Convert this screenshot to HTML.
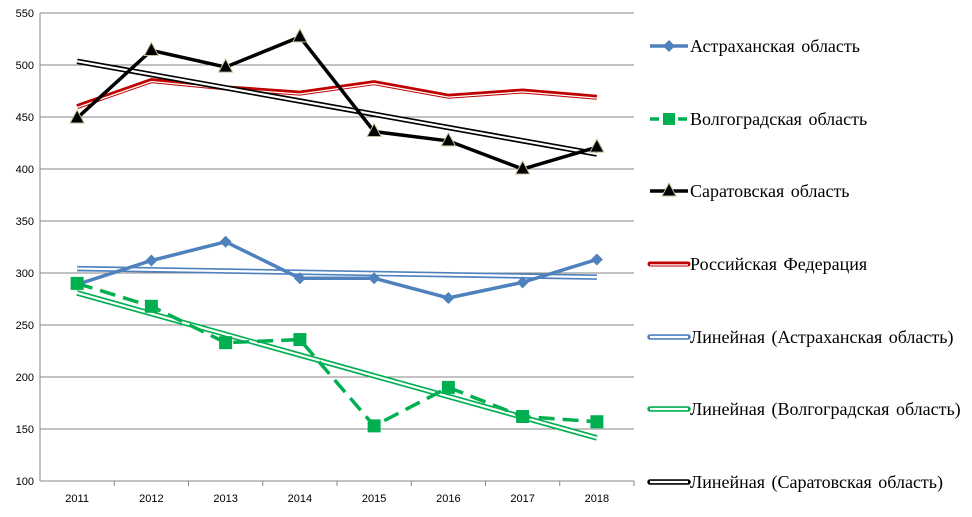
<!DOCTYPE html>
<html><head><meta charset="utf-8"><style>
body{margin:0;background:#fff;}
svg{display:block;}
.tick{font-family:"Liberation Sans",sans-serif;font-size:11px;fill:#000;}
.leg{font-family:"Liberation Serif","Noto Serif CJK SC",serif;font-size:18px;word-spacing:2px;fill:#000;}
</style></head><body>
<svg id="chart" width="972" height="517"></svg>
<script>
const years=[2011,2012,2013,2014,2015,2016,2017,2018];
const astrakhan=[289,312,330,295,295,276,291,313];
const volgograd=[290,268,233,236,153,190,162,157];
const saratov=[449,514,498,527,436,427,400,421];
const russia=[460,485,478,473,483,470,475,469];
const yTicks=[100,150,200,250,300,350,400,450,500,550];
const legendLabels=["Астраханская  область","Волгоградская  область","Саратовская  область","Российская  Федерация","Линейная  (Астраханская  область)","Линейная  (Волгоградская  область)","Линейная  (Саратовская  область)"];

const NS="http://www.w3.org/2000/svg";
const svg=document.getElementById('chart');
const X0=40,X1=634,Y0=481,Y1=13;
const step=(X1-X0)/years.length;
const xs=i=>X0+step*(i+0.5);
const ys=v=>Y0-(v-100)/(550-100)*(Y0-Y1);
function mk(t,a,p){const e=document.createElementNS(NS,t);for(const k in a)e.setAttribute(k,a[k]);(p||svg).appendChild(e);return e;}

yTicks.forEach(v=>{
  const g=mk('line',{x1:X0,x2:X1,y1:ys(v),y2:ys(v),stroke:'#868686','stroke-width':1});
  
  
  const t=mk('text',{x:X0-6,y:ys(v)+4,'text-anchor':'end',class:'tick'});t.textContent=v;
  
  
});
const ax=mk('line',{x1:X0,x2:X0,y1:Y1,y2:Y0,stroke:'#868686'});


years.forEach((y,i)=>{
  const tk=mk('line',{x1:X0+step*(i+1),x2:X0+step*(i+1),y1:Y0,y2:Y0+5,stroke:'#868686'});
  
  
  const t=mk('text',{x:xs(i),y:Y0+21,'text-anchor':'middle',class:'tick'});t.textContent=y;
  
  
});

function trend(vals){const n=vals.length;let sx=0,sy=0,sxy=0,sxx=0;vals.forEach((v,i)=>{sx+=i;sy+=v;sxy+=i*v;sxx+=i*i;});const b=(n*sxy-sx*sy)/(n*sxx-sx*sx);const a=(sy-b*sx)/n;return [a,a+b*(n-1)];}
function dbl(x1,y1,x2,y2,c,name){
  const g=mk('g',{});
  
  
  mk('line',{x1,y1,x2,y2,stroke:c,'stroke-width':5.5},g);
  mk('line',{x1,y1,x2,y2,stroke:'#fff','stroke-width':2.2},g);
}
function pts(vals){return vals.map((v,i)=>xs(i)+','+ys(v)).join(' ');}

// Russia double line
const rg=mk('g',{});


mk('polyline',{points:pts(russia),fill:'none',stroke:'#c00000','stroke-width':5},rg);
mk('polyline',{points:pts(russia),fill:'none',stroke:'#fff','stroke-width':1.3,transform:'translate(0,0.9)'},rg);

// trendlines
[[astrakhan,'#4f81bd','trend-astrakhan'],[volgograd,'#00b050','trend-volgograd'],[saratov,'#000','trend-saratov']].forEach(([d,c,n])=>{
  const [a,b]=trend(d);dbl(xs(0),ys(a),xs(d.length-1),ys(b),c,n);
});

// Astrakhan
const ag=mk('g',{});


mk('polyline',{points:pts(astrakhan),fill:'none',stroke:'#4f81bd','stroke-width':3.5},ag);
astrakhan.forEach((v,i)=>{const x=xs(i),y=ys(v);const m=mk('polygon',{points:`${x},${y-6} ${x+6},${y} ${x},${y+6} ${x-6},${y}`,fill:'#4f81bd'},ag);
  
  });

// Volgograd
const vg=mk('g',{});


mk('polyline',{points:pts(volgograd),fill:'none',stroke:'#00b050','stroke-width':3.5,'stroke-dasharray':'16 8'},vg);
volgograd.forEach((v,i)=>{const m=mk('rect',{x:xs(i)-6.5,y:ys(v)-6.5,width:13,height:13,fill:'#00b050'},vg);
  
  });

// Saratov
const sg=mk('g',{});


mk('polyline',{points:pts(saratov),fill:'none',stroke:'#000','stroke-width':3.5},sg);
saratov.forEach((v,i)=>{const x=xs(i),y=ys(v);const m=mk('polygon',{points:`${x},${y-8} ${x+7},${y+5} ${x-7},${y+5}`,fill:'#000',stroke:'#c4bd97','stroke-width':1},sg);
  
  });

// Legend
const legY=[46,119,191,264,337,409,482];
legendLabels.forEach((lab,i)=>{
  const g=mk('g',{});
  
  
  const y=legY[i],x1=650,x2=688;
  if(i===0){mk('line',{x1,x2,y1:y,y2:y,stroke:'#4f81bd','stroke-width':3.5},g);mk('polygon',{points:`669,${y-6} 675,${y} 669,${y+6} 663,${y}`,fill:'#4f81bd'},g);}
  if(i===1){mk('line',{x1,x2,y1:y,y2:y,stroke:'#00b050','stroke-width':3.5,'stroke-dasharray':'9 5'},g);mk('rect',{x:663,y:y-6,width:12,height:12,fill:'#00b050'},g);}
  if(i===2){mk('line',{x1,x2,y1:y,y2:y,stroke:'#000','stroke-width':3.5},g);mk('polygon',{points:`669,${y-8} 676,${y+5} 662,${y+5}`,fill:'#000',stroke:'#c4bd97'},g);}
  if(i===3){mk('line',{x1,x2,y1:y,y2:y,stroke:'#c00000','stroke-width':5,'stroke-linecap':'round'},g);mk('line',{x1,x2,y1:y+0.9,y2:y+0.9,stroke:'#fff','stroke-width':1.3},g);}
  if(i>=4){const c=['#4f81bd','#00b050','#000'][i-4];mk('line',{x1,x2,y1:y,y2:y,stroke:c,'stroke-width':5.5,'stroke-linecap':'round'},g);mk('line',{x1,x2,y1:y,y2:y,stroke:'#fff','stroke-width':2.2},g);}
  const t=mk('text',{x:690,y:y+6,class:'leg'},g);t.textContent=lab;
});
</script>
</body></html>
